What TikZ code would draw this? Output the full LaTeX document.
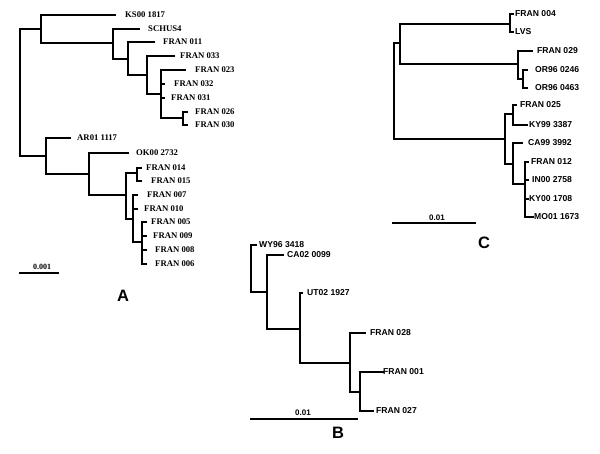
\documentclass[tikz,border=0pt]{standalone}
\usepackage{fontspec}
\setmainfont{Liberation Serif}
\setsansfont{Liberation Sans}
\usepackage{tikz}

\tikzset{
  branch/.style={line width=1.2pt, line cap=rect},
  taxA/.style={font=\bfseries\fontsize{8.7}{9}\selectfont, anchor=west, inner sep=0pt},
  taxB/.style={font=\sffamily\bfseries\fontsize{8.6}{9}\selectfont, anchor=west, inner sep=0pt},
  panel/.style={font=\sffamily\bfseries\fontsize{16.5}{17}\selectfont, inner sep=0pt},
}

\begin{document}
\begin{tikzpicture}[x=1pt, y=-1pt]
\useasboundingbox (0,0) rectangle (600,453);

% tree A
\coordinate (rA) at (20,92);
\coordinate (a1) at (41,29);  \coordinate (a2) at (113,43);
\coordinate (a3) at (128,59); \coordinate (a4) at (147,75);
\coordinate (a5) at (161,94); \coordinate (a6) at (183,118);
\coordinate (a7) at (46,156); \coordinate (a8) at (89,174);
\coordinate (a9) at (126,195); \coordinate (a10) at (137,173);
\coordinate (a11) at (133,219); \coordinate (a12) at (142,242);

\coordinate (ks00) at (115,15);    \node[taxA] (ks00l) at (125,15) {KS00 1817};
\coordinate (schus) at (139,29);   \node[taxA] (schusl) at (148,29) {SCHUS4};
\coordinate (fr011) at (154,42);   \node[taxA] (fr011l) at (163,42) {FRAN 011};
\coordinate (fr033) at (174,56);   \node[taxA] (fr033l) at (180,56) {FRAN 033};
\coordinate (fr023) at (185,70);   \node[taxA] (fr023l) at (195,70) {FRAN 023};
\coordinate (fr032) at (164,84);   \node[taxA] (fr032l) at (174,84) {FRAN 032};
\coordinate (fr031) at (164,98);   \node[taxA] (fr031l) at (171,98) {FRAN 031};
\coordinate (fr026) at (187,112);  \node[taxA] (fr026l) at (195,112) {FRAN 026};
\coordinate (fr030) at (187,125);  \node[taxA] (fr030l) at (195,125) {FRAN 030};
\coordinate (ar01) at (70,138);    \node[taxA] (ar01l) at (77,138) {AR01 1117};
\coordinate (ok00) at (128,153);   \node[taxA] (ok00l) at (136,153) {OK00 2732};
\coordinate (fr014) at (141,168);  \node[taxA] (fr014l) at (146,168) {FRAN 014};
\coordinate (fr015) at (141,181);  \node[taxA] (fr015l) at (151,181) {FRAN 015};
\coordinate (fr007) at (137,195);  \node[taxA] (fr007l) at (147,195) {FRAN 007};
\coordinate (fr010) at (137,209);  \node[taxA] (fr010l) at (144,209) {FRAN 010};
\coordinate (fr005) at (146,222);  \node[taxA] (fr005l) at (151,222) {FRAN 005};
\coordinate (fr009) at (146,236);  \node[taxA] (fr009l) at (153,236) {FRAN 009};
\coordinate (fr008) at (146,250);  \node[taxA] (fr008l) at (155,250) {FRAN 008};
\coordinate (fr006) at (146,264);  \node[taxA] (fr006l) at (155,264) {FRAN 006};

\draw[branch] (rA) |- (a1); \draw[branch] (rA) |- (a7);
\draw[branch] (a1) |- (ks00); \draw[branch] (a1) |- (a2);
\draw[branch] (a2) |- (schus); \draw[branch] (a2) |- (a3);
\draw[branch] (a3) |- (fr011); \draw[branch] (a3) |- (a4);
\draw[branch] (a4) |- (fr033); \draw[branch] (a4) |- (a5);
\draw[branch] (a5) |- (fr023); \draw[branch] (a5) |- (fr032);
\draw[branch] (a5) |- (fr031); \draw[branch] (a5) |- (a6);
\draw[branch] (a6) |- (fr026); \draw[branch] (a6) |- (fr030);
\draw[branch] (a7) |- (ar01); \draw[branch] (a7) |- (a8);
\draw[branch] (a8) |- (ok00); \draw[branch] (a8) |- (a9);
\draw[branch] (a9) |- (a10); \draw[branch] (a9) |- (a11);
\draw[branch] (a10) |- (fr014); \draw[branch] (a10) |- (fr015);
\draw[branch] (a11) |- (fr007); \draw[branch] (a11) |- (fr010);
\draw[branch] (a11) |- (a12);
\draw[branch] (a12) |- (fr005); \draw[branch] (a12) |- (fr009);
\draw[branch] (a12) |- (fr008); \draw[branch] (a12) |- (fr006);

\draw[branch] (20,273) -- (58,273);
\node[font=\bfseries\fontsize{8}{9}\selectfont, inner sep=0pt] (scA) at (42,267) {0.001};
\node[panel] (pA) at (123,296) {A};

% tree B
\coordinate (rB) at (251,268);
\coordinate (b1) at (267,292); \coordinate (b2) at (300,329);
\coordinate (b3) at (350,363); \coordinate (b4) at (360,392);

\coordinate (wy96) at (256,245);   \node[taxB] (wy96l) at (259,245) {WY96 3418};
\coordinate (ca02) at (283,255);   \node[taxB] (ca02l) at (287,255) {CA02 0099};
\coordinate (ut02) at (302,293);   \node[taxB] (ut02l) at (307,293) {UT02 1927};
\coordinate (fr028) at (365,333);  \node[taxB] (fr028l) at (370,333) {FRAN 028};
\coordinate (fr001) at (383,372);  \node[taxB] (fr001l) at (383,372) {FRAN 001};
\coordinate (fr027) at (373,411);  \node[taxB] (fr027l) at (376,411) {FRAN 027};

\draw[branch] (rB) |- (wy96); \draw[branch] (rB) |- (b1);
\draw[branch] (b1) |- (ca02); \draw[branch] (b1) |- (b2);
\draw[branch] (b2) |- (ut02); \draw[branch] (b2) |- (b3);
\draw[branch] (b3) |- (fr028); \draw[branch] (b3) |- (b4);
\draw[branch] (b4) |- (fr001); \draw[branch] (b4) |- (fr027);

\draw[branch] (251,419) -- (357,419);
\node[font=\sffamily\bfseries\fontsize{8}{9}\selectfont, inner sep=0pt] (scB) at (303,413) {0.01};
\node[panel] (pB) at (338,433) {B};

% tree C
\coordinate (rC) at (394,91);
\coordinate (c1) at (400,43); \coordinate (c2) at (510,24);
\coordinate (c3) at (518,64); \coordinate (c4) at (523,79);
\coordinate (c5) at (505,139); \coordinate (c6) at (513,114);
\coordinate (c7) at (513,164); \coordinate (c8) at (525,184);

\coordinate (fr004) at (513,14);   \node[taxB] (fr004l) at (515,14) {FRAN 004};
\coordinate (lvs) at (513,32);     \node[taxB] (lvsl) at (515,32) {LVS};
\coordinate (fr029) at (532,51);   \node[taxB] (fr029l) at (537,51) {FRAN 029};
\coordinate (or0246) at (527,70);  \node[taxB] (or0246l) at (535,70) {OR96 0246};
\coordinate (or0463) at (527,88);  \node[taxB] (or0463l) at (535,88) {OR96 0463};
\coordinate (fr025) at (516,105);  \node[taxB] (fr025l) at (520,105) {FRAN 025};
\coordinate (ky99) at (527,125);   \node[taxB] (ky99l) at (529,125) {KY99 3387};
\coordinate (ca99) at (522,143);   \node[taxB] (ca99l) at (528,143) {CA99 3992};
\coordinate (fr012) at (528,162);  \node[taxB] (fr012l) at (531,162) {FRAN 012};
\coordinate (in00) at (528,180);   \node[taxB] (in00l) at (532,180) {IN00 2758};
\coordinate (ky00) at (528,199);   \node[taxB] (ky00l) at (529,199) {KY00 1708};
\coordinate (mo01) at (533,217);   \node[taxB] (mo01l) at (534,217) {MO01 1673};

\draw[branch] (rC) |- (c1); \draw[branch] (rC) |- (c5);
\draw[branch] (c1) |- (c2); \draw[branch] (c1) |- (c3);
\draw[branch] (c2) |- (fr004); \draw[branch] (c2) |- (lvs);
\draw[branch] (c3) |- (fr029); \draw[branch] (c3) |- (c4);
\draw[branch] (c4) |- (or0246); \draw[branch] (c4) |- (or0463);
\draw[branch] (c5) |- (c6); \draw[branch] (c5) |- (c7);
\draw[branch] (c6) |- (fr025); \draw[branch] (c6) |- (ky99);
\draw[branch] (c7) |- (ca99); \draw[branch] (c7) |- (c8);
\draw[branch] (c8) |- (fr012); \draw[branch] (c8) |- (in00);
\draw[branch] (c8) |- (ky00); \draw[branch] (c8) |- (mo01);

\draw[branch] (393,223) -- (475,223);
\node[font=\sffamily\bfseries\fontsize{8}{9}\selectfont, inner sep=0pt] (scC) at (437,218) {0.01};
\node[panel] (pC) at (484,243) {C};
\end{tikzpicture}
\end{document}
